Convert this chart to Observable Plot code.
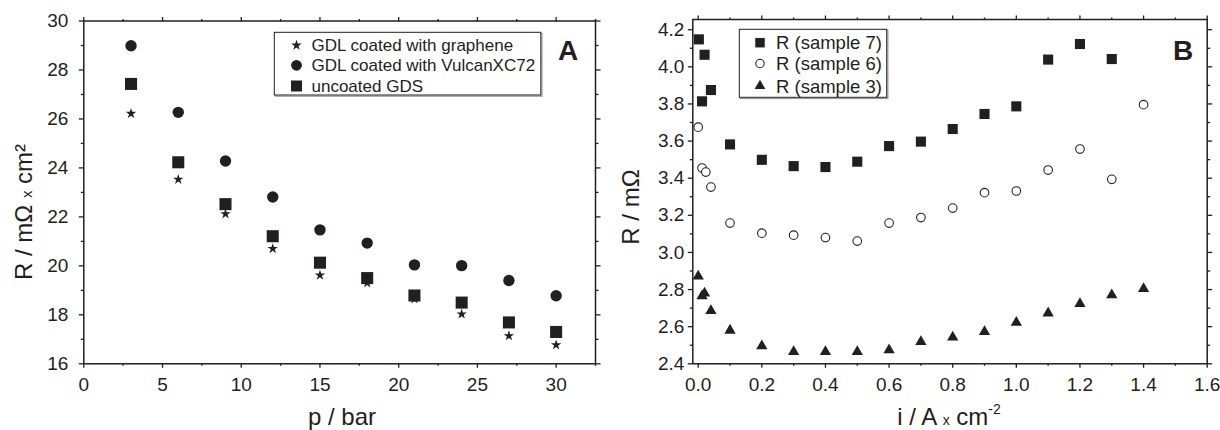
<!DOCTYPE html>
<html>
<head>
<meta charset="utf-8">
<script src="https://cdn.jsdelivr.net/npm/d3@7"></script>
<script src="https://cdn.jsdelivr.net/npm/@observablehq/plot@0.6"></script>
<style>
  html, body { margin: 0; padding: 0; background: #fff; }
  #wrap { position: relative; width: 1220px; height: 430px; overflow: hidden; font-family: "Liberation Sans", Arial, sans-serif; }
  .panel { position: absolute; top: 0; width: 610px; height: 430px; }
  .panel svg.overlay { position: absolute; left: 0; top: 0; pointer-events: none; }
  .panel > svg:first-child { position: absolute; left: 0; top: 0; }
</style>
</head>
<body>
<div id="wrap">
  <div class="panel" id="panelA" style="left:0"></div>
  <div class="panel" id="panelB" style="left:610px"></div>
</div>
<script>
// ---------- Panel A data ----------
const pressure = [3, 6, 9, 12, 15, 18, 21, 24, 27, 30];
const rGraphene = [26.22, 23.53, 22.12, 20.70, 19.62, 19.30, 18.65, 18.03, 17.14, 16.77];
const rVulcan   = [28.99, 26.27, 24.28, 22.81, 21.47, 20.93, 20.04, 20.01, 19.40, 18.78];
const rUncoated = [27.43, 24.23, 22.52, 21.21, 20.13, 19.50, 18.79, 18.50, 17.69, 17.30];
const seriesA = ["GDL coated with graphene", "GDL coated with VulcanXC72", "uncoated GDS"];
const xTicksA = [0, 5, 10, 15, 20, 25, 30];
const xMinorA = [2.5, 7.5, 12.5, 17.5, 22.5, 27.5, 32.5];
const yTicksA = [16, 18, 20, 22, 24, 26, 28, 30];
const yMinorA = [17, 19, 21, 23, 25, 27, 29];

// ---------- Panel B data ----------
const iSample7 = [0.002, 0.012, 0.020, 0.040, 0.1, 0.2, 0.3, 0.4, 0.5, 0.6, 0.7, 0.8, 0.9, 1.0, 1.1, 1.2, 1.3];
const rSample7 = [4.148, 3.814, 4.065, 3.875, 3.582, 3.499, 3.465, 3.460, 3.489, 3.573, 3.597, 3.665, 3.746, 3.787, 4.039, 4.123, 4.042];
const iSample6 = [0.0, 0.012, 0.024, 0.040, 0.1, 0.2, 0.3, 0.4, 0.5, 0.6, 0.7, 0.8, 0.9, 1.0, 1.1, 1.2, 1.3, 1.4];
const rSample6 = [3.675, 3.455, 3.433, 3.352, 3.158, 3.104, 3.093, 3.080, 3.061, 3.158, 3.188, 3.239, 3.322, 3.331, 3.444, 3.557, 3.394, 3.796];
const iSample3 = [0.0, 0.012, 0.020, 0.040, 0.1, 0.2, 0.3, 0.4, 0.5, 0.6, 0.7, 0.8, 0.9, 1.0, 1.1, 1.2, 1.3, 1.4];
const rSample3 = [2.872, 2.765, 2.780, 2.686, 2.580, 2.496, 2.465, 2.465, 2.465, 2.474, 2.519, 2.543, 2.573, 2.623, 2.673, 2.723, 2.771, 2.804];
const seriesB = ["R (sample 7)", "R (sample 6)", "R (sample 3)"];
const xTicksB = [0, 0.2, 0.4, 0.6, 0.8, 1.0, 1.2, 1.4, 1.6];
const xMinorB = [0.1, 0.3, 0.5, 0.7, 0.9, 1.1, 1.3, 1.5];
const yTicksB = [2.4, 2.6, 2.8, 3.0, 3.2, 3.4, 3.6, 3.8, 4.0, 4.2];
const yMinorB = [2.5, 2.7, 2.9, 3.1, 3.3, 3.5, 3.7, 3.9, 4.1];

const ink = "#231f20";
const zip = (xs, ys) => xs.map((x, k) => ({x, y: ys[k]}));

function axes({xMajor, xMinor, yMajor, yMinor, xFmt, yFmt, xPad, yPad}) {
  const none = () => "";
  const common = {label: null, stroke: ink, strokeWidth: 1.3};
  return [
    Plot.axisX(xMajor, {...common, anchor: "bottom", tickSize: 4.5, tickPadding: xPad, tickFormat: xFmt, fontSize: 19, fill: ink}),
    Plot.axisX(xMinor, {...common, anchor: "bottom", tickSize: 2.5, tickFormat: none}),
    Plot.axisX(xMajor, {...common, anchor: "top", tickSize: 4.5, tickFormat: none}),
    Plot.axisX(xMinor, {...common, anchor: "top", tickSize: 2.5, tickFormat: none}),
    Plot.axisY(yMajor, {...common, anchor: "left", tickSize: 4.5, tickPadding: yPad, tickFormat: yFmt, fontSize: 19, fill: ink}),
    Plot.axisY(yMinor, {...common, anchor: "left", tickSize: 2.5, tickFormat: none}),
    Plot.axisY(yMajor, {...common, anchor: "right", tickSize: 4.5, tickFormat: none}),
    Plot.axisY(yMinor, {...common, anchor: "right", tickSize: 2.5, tickFormat: none})
  ];
}

// ---------- Panel A ----------
const plotA = Plot.plot({
  width: 610, height: 430,
  marginLeft: 83.3, marginRight: 15, marginTop: 20.5, marginBottom: 66.7,
  x: {domain: [0, 32.5]},
  y: {domain: [16, 30]},
  style: {fontFamily: "'Liberation Sans', Arial, sans-serif", fontSize: "19px", color: ink, background: "transparent", overflow: "visible"},
  marks: [
    ...axes({xMajor: xTicksA, xMinor: xMinorA, yMajor: yTicksA, yMinor: yMinorA,
             xFmt: d3.format("d"), yFmt: d3.format("d"), xPad: 9, yPad: 11}),
    Plot.frame({stroke: ink, strokeWidth: 1.5}),
    Plot.dot(zip(pressure, rVulcan), {x: "x", y: "y", symbol: "circle", r: 5.7, fill: ink, stroke: "none"}),
    Plot.dot(zip(pressure, rGraphene), {x: "x", y: "y", symbol: "star", r: 3.3, fill: ink, stroke: "none"}),
    Plot.dot(zip(pressure, rUncoated), {x: "x", y: "y", symbol: "square", r: 6.8, fill: ink, stroke: "none"})
  ]
});
document.getElementById("panelA").appendChild(plotA);

// ---------- Panel B ----------
const plotB = Plot.plot({
  width: 610, height: 430,
  marginLeft: 82.3, marginRight: 13.3, marginTop: 19, marginBottom: 66.7,
  x: {domain: [-0.017, 1.6]},
  y: {domain: [2.4, 4.255]},
  style: {fontFamily: "'Liberation Sans', Arial, sans-serif", fontSize: "19px", color: ink, background: "transparent", overflow: "visible"},
  marks: [
    ...axes({xMajor: xTicksB, xMinor: xMinorB, yMajor: yTicksB, yMinor: yMinorB,
             xFmt: d3.format(".1f"), yFmt: d3.format(".1f"), xPad: 9, yPad: 4}),
    Plot.frame({stroke: ink, strokeWidth: 1.5}),
    Plot.dot(zip(iSample7, rSample7), {x: "x", y: "y", symbol: "square", r: 5.7, fill: ink, stroke: "none"}),
    Plot.dot(zip(iSample6, rSample6), {x: "x", y: "y", symbol: "circle", r: 4.3, fill: "white", stroke: ink, strokeWidth: 1.1}),
    Plot.dot(zip(iSample3, rSample3), {x: "x", y: "y", symbol: "triangle", r: 4.2, fill: ink, stroke: "none"})
  ]
});
document.getElementById("panelB").appendChild(plotB);

// ---------- overlays: legends, panel letters, axis titles ----------
function overlay(hostId) {
  return d3.select("#" + hostId).append("svg")
    .attr("class", "overlay").attr("width", 610).attr("height", 430)
    .style("font-family", "'Liberation Sans', Arial, sans-serif").style("fill", ink);
}

function legend(svg, {x, y, w, h, rows, symX, textX, names, symbols, fontSize}) {
  svg.append("rect").attr("x", x + 1.2).attr("y", y + 1.2).attr("width", w).attr("height", h)
    .attr("fill", "none").attr("stroke", "#9a9a9a").attr("stroke-width", 1.2);
  svg.append("rect").attr("x", x).attr("y", y).attr("width", w).attr("height", h)
    .attr("fill", "white").attr("stroke", ink).attr("stroke-width", 1);
  names.forEach((name, k) => {
    const s = symbols[k];
    svg.append("path").attr("transform", `translate(${symX},${rows[k]})`)
      .attr("d", d3.symbol(s.type, s.size)())
      .attr("fill", s.fill).attr("stroke", s.stroke || "none").attr("stroke-width", s.sw || 0);
    svg.append("text").attr("x", textX).attr("y", rows[k]).attr("dy", "0.36em")
      .attr("font-size", fontSize).attr("fill", ink).text(name);
  });
}

const ovA = overlay("panelA");
legend(ovA, {
  x: 274.3, y: 32.3, w: 266.5, h: 62.7, rows: [45.3, 65.3, 86], symX: 296.5, textX: 311.5,
  names: seriesA, fontSize: 17,
  symbols: [
    {type: d3.symbolStar, size: Math.PI * 3.3 * 3.3, fill: ink},
    {type: d3.symbolCircle, size: Math.PI * 5.4 * 5.4, fill: ink},
    {type: d3.symbolSquare, size: 11 * 11, fill: ink}
  ]
});
ovA.append("text").attr("x", 568).attr("y", 50).attr("dy", "0.36em").attr("text-anchor", "middle")
  .attr("font-size", 28).attr("font-weight", "bold").attr("fill", ink).text("A");
ovA.append("text").attr("x", 342).attr("y", 416).attr("dy", "0.36em").attr("text-anchor", "middle")
  .attr("font-size", 24).attr("fill", ink).text("p / bar");
{
  const t = ovA.append("text").attr("transform", "translate(23.5,212) rotate(-90)")
    .attr("dy", "0.36em").attr("text-anchor", "middle").attr("font-size", 24).attr("fill", ink);
  t.append("tspan").text("R / mΩ ");
  t.append("tspan").attr("font-size", 15).text("x");
  t.append("tspan").text(" cm²");
}

const ovB = overlay("panelB");
legend(ovB, {
  x: 129.3, y: 29.3, w: 147.4, h: 68, rows: [42.7, 63.5, 86], symX: 150, textX: 166,
  names: seriesB, fontSize: 18.5,
  symbols: [
    {type: d3.symbolSquare, size: 9.5 * 9.5, fill: ink},
    {type: d3.symbolCircle, size: Math.PI * 4.2 * 4.2, fill: "white", stroke: ink, sw: 1.1},
    {type: d3.symbolTriangle, size: Math.PI * 4.0 * 4.0, fill: ink}
  ]
});
ovB.append("text").attr("x", 573).attr("y", 50).attr("dy", "0.36em").attr("text-anchor", "middle")
  .attr("font-size", 28).attr("font-weight", "bold").attr("fill", ink).text("B");
{
  const t = ovB.append("text").attr("x", 339).attr("y", 416).attr("dy", "0.36em")
    .attr("text-anchor", "middle").attr("font-size", 24).attr("fill", ink);
  t.append("tspan").text("i / A ");
  t.append("tspan").attr("font-size", 14).text("x");
  t.append("tspan").text(" cm");
  t.append("tspan").attr("font-size", 14).attr("dy", "-0.75em").text("-2");
}
ovB.append("text").attr("transform", "translate(20,207) rotate(-90)")
  .attr("dy", "0.36em").attr("text-anchor", "middle").attr("font-size", 24).attr("fill", ink).text("R / mΩ");
</script>
</body>
</html>
